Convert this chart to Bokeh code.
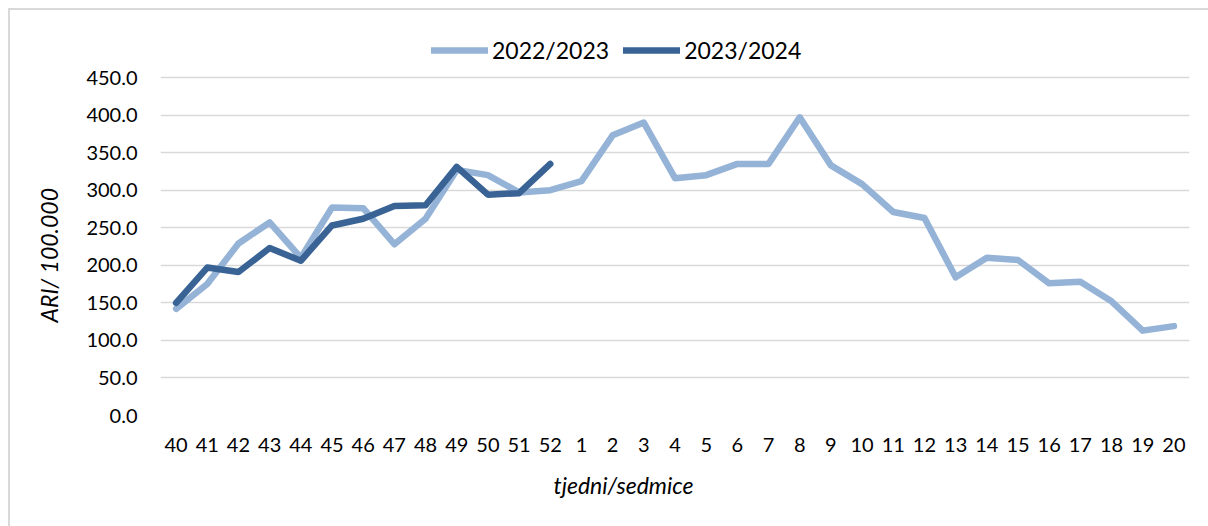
from bokeh.plotting import figure
from bokeh.models import (Range1d, FixedTicker, NumeralTickFormatter, Legend,
                          LegendItem, ColumnDataSource, Title)
from bokeh.embed import file_html
from bokeh.resources import INLINE

weeks = ["40", "41", "42", "43", "44", "45", "46", "47", "48", "49", "50", "51", "52",
         "1", "2", "3", "4", "5", "6", "7", "8", "9", "10", "11", "12", "13", "14",
         "15", "16", "17", "18", "19", "20"]
season_2022_2023 = [142, 175, 229, 257, 210, 277, 276, 228, 262, 327, 320, 297, 300,
                    312, 373, 390, 316, 320, 335, 335, 397, 333, 308, 271, 263, 184,
                    210, 207, 176, 178, 152, 113, 119]
season_2023_2024 = [150, 197, 191, 223, 206, 253, 262, 279, 280, 331, 294, 296, 335]
series_names = ["2022/2023", "2023/2024"]
series_colors = ["#95B3D7", "#3A6395"]
y_ticks = [0, 50, 100, 150, 200, 250, 300, 350, 400, 450]

FONT = "Lato"
W, H = 1208, 526
FRAME_LEFT = 160
FRAME_TOP, FRAME_BOTTOM = 30, 415      # frame extends above 450 to host the legend
PX_450 = 338                           # pixels between 0 and 450
y_top = (FRAME_BOTTOM - FRAME_TOP) * 450 / PX_450

p = figure(width=W, height=H, output_backend="svg", toolbar_location=None,
           x_range=Range1d(-0.5, len(weeks) - 0.5), y_range=Range1d(0, y_top),
           min_border_left=FRAME_LEFT, min_border_right=19, min_border_top=FRAME_TOP,
           min_border_bottom=H - FRAME_BOTTOM)
p.border_fill_color = None
p.background_fill_color = None
p.outline_line_color = None
p.styles = {"box-shadow": "inset 8px 8px 0 0 #FFFFFF, inset 10px 10px 0 0 #D9D9D9"}

src1 = ColumnDataSource(dict(x=list(range(len(season_2022_2023))), y=season_2022_2023))
src2 = ColumnDataSource(dict(x=list(range(len(season_2023_2024))), y=season_2023_2024))
r1 = p.line("x", "y", source=src1, line_color=series_colors[0], line_width=6.5,
            line_join="round", line_cap="round")
r2 = p.line("x", "y", source=src2, line_color=series_colors[1], line_width=6.5,
            line_join="round", line_cap="round")

# y axis
ya = p.yaxis[0]
ya.ticker = FixedTicker(ticks=y_ticks)
ya.formatter = NumeralTickFormatter(format="0.0")
ya.axis_line_color = None
ya.major_tick_line_color = None
ya.minor_tick_line_color = None
ya.major_tick_out = 0
ya.major_label_standoff = 23
ya.major_label_text_font = FONT
ya.major_label_text_font_size = "20px"
ya.major_label_text_color = "#000000"

ytitle = Title(text="ARI/ 100.000", align="left", offset=93, standoff=42,
               text_font=FONT, text_font_style="italic", text_font_size="23px",
               text_color="#000000")
p.add_layout(ytitle, "left")

# x axis
xa = p.xaxis[0]
xa.ticker = FixedTicker(ticks=list(range(len(weeks))))
xa.major_label_overrides = {i: w for i, w in enumerate(weeks)}
xa.axis_line_color = None
xa.major_tick_line_color = None
xa.minor_tick_line_color = None
xa.major_tick_out = 0
xa.major_label_standoff = 22
xa.major_label_text_font = FONT
xa.major_label_text_font_size = "20px"
xa.major_label_text_color = "#000000"

xtitle = Title(text="tjedni/sedmice", align="left", offset=553 - FRAME_LEFT,
               standoff=28, text_font=FONT, text_font_style="italic",
               text_font_size="23px", text_color="#000000")
p.add_layout(xtitle, "below")

p.xgrid.grid_line_color = None
p.ygrid.grid_line_color = "#D9D9D9"
p.ygrid.grid_line_width = 1.5

legend = Legend(items=[LegendItem(label=series_names[0], renderers=[r1]),
                       LegendItem(label=series_names[1], renderers=[r2])],
                location=(271, FRAME_BOTTOM - 64), orientation="horizontal",
                glyph_width=57, glyph_height=24, label_height=24,
                label_standoff=4, spacing=14, padding=0, margin=0,
                label_text_font=FONT, label_text_font_size="23px",
                label_text_color="#000000",
                border_line_alpha=0, background_fill_alpha=0)
p.add_layout(legend, "center")

open("out.html", "w").write(file_html(p, INLINE))
